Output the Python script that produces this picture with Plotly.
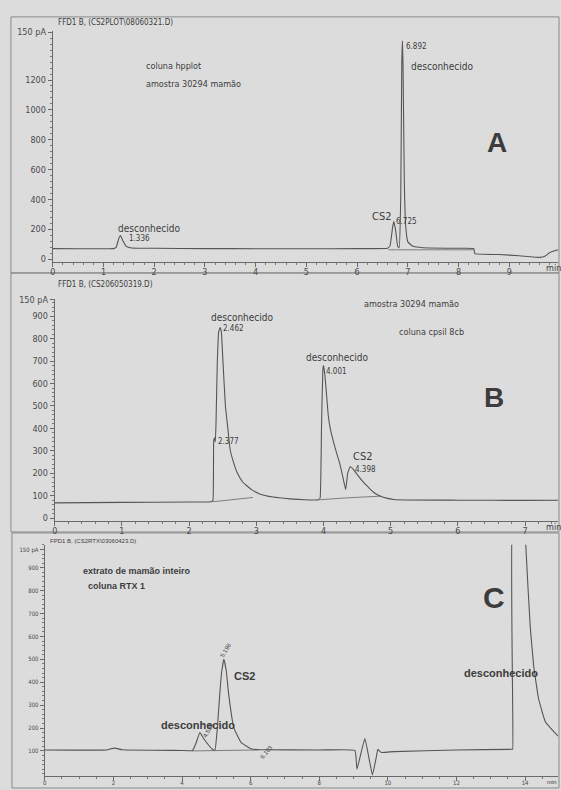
import plotly.graph_objects as go

W, H = 561, 790

# ---------------- Panel A : FFD1 B (CS2PLOT\08060321.D) ----------------
a_time = [0.00, 1.20, 1.25, 1.30, 1.336, 1.38, 1.45, 1.55, 2.0, 3.0, 4.0, 5.0, 6.0,
          6.60, 6.65, 6.70, 6.725, 6.76, 6.80, 6.83, 6.86, 6.88, 6.892, 6.905, 6.93,
          6.96, 7.00, 7.10, 7.30, 8.00, 8.30, 8.32, 8.80, 9.20, 9.60, 9.70, 9.80, 9.96]
a_signal = [70, 70, 78, 135, 157, 125, 85, 74, 72, 70, 69, 69, 70,
            72, 90, 215, 251, 190, 85, 75, 420, 1300, 1460, 1300, 520,
            210, 115, 85, 76, 72, 70, 36, 30, 22, 11, 18, 44, 62]
a_base_time = [6.62, 6.80, 8.30]
a_base_signal = [62, 62, 62]

# ---------------- Panel B : FFD1 B (CS206050319.D) ----------------
b_time = [0.0, 1.0, 2.0, 2.33, 2.355, 2.365, 2.377, 2.39, 2.40, 2.42, 2.44, 2.462,
          2.48, 2.50, 2.54, 2.58, 2.61, 2.66, 2.72, 2.80, 2.93, 3.05, 3.25, 3.50,
          3.72, 3.93, 3.95, 3.97, 3.99, 4.001, 4.02, 4.07, 4.10, 4.14, 4.19, 4.24,
          4.29, 4.33, 4.36, 4.398, 4.45, 4.52, 4.60, 4.68, 4.76, 4.85, 4.95, 5.07,
          6.0, 7.0, 7.49]
b_signal = [68, 70, 72, 73, 80, 340, 358, 340, 420, 700, 830, 850,
            830, 720, 500, 390, 306, 250, 200, 160, 127, 108, 94, 86,
            82, 82, 90, 400, 660, 680, 640, 460, 400, 350, 295, 246,
            180, 127, 200, 230, 215, 187, 158, 134, 112, 97, 88, 82,
            80, 79, 80]
b_base1_time = [2.35, 2.95]
b_base1_signal = [73, 92]
b_base2_time = [3.95, 4.33, 4.85]
b_base2_signal = [82, 90, 98]

# ---------------- Panel C : FPD1 B (CS2RTX\03060423.D) ----------------
c_time = [0.0, 1.80, 1.95, 2.05, 2.25, 4.00, 4.30, 4.40, 4.52, 4.65, 4.89, 4.96,
          5.03, 5.10, 5.16, 5.22, 5.29, 5.36, 5.51, 5.72, 6.03, 6.30, 8.00, 9.04,
          9.10, 9.33, 9.55, 9.66, 9.71, 9.81, 10.18, 12.0, 13.62, 13.64, 13.66,
          14.00, 14.02, 14.15, 14.25, 14.39, 14.59, 14.83, 14.96]
c_signal = [104, 104, 110, 112, 105, 102, 101, 130, 180, 150, 107, 103,
            200, 347, 450, 500, 450, 347, 202, 137, 108, 105, 104, 102,
            20, 154, -5, 71, 107, 93, 97, 104, 107, 107, 1200,
            1200, 1000, 643, 472, 330, 227, 185, 165]
c_base_time = [4.30, 6.20]
c_base_signal = [100, 104]

LINE = "#555555"
BG = "#dcdcdc"
NARROW = "Liberation Sans Narrow, DejaVu Sans Condensed, Arial Narrow, sans-serif"
ARIAL = "Liberation Sans, Arial, sans-serif"


def fx(px):
    return px / W


def fy(py):
    return 1 - py / H


fig = go.Figure()
for t, s, xa, ya, w in [
    (a_time, a_signal, "x", "y", 1.1), (a_base_time, a_base_signal, "x", "y", 0.7),
    (b_time, b_signal, "x2", "y2", 1.1), (b_base1_time, b_base1_signal, "x2", "y2", 0.7),
    (b_base2_time, b_base2_signal, "x2", "y2", 0.7),
    (c_time, c_signal, "x3", "y3", 1.1), (c_base_time, c_base_signal, "x3", "y3", 0.7),
]:
    fig.add_trace(go.Scatter(x=t, y=s, xaxis=xa, yaxis=ya, mode="lines",
                             line=dict(color=LINE, width=w, shape="spline", smoothing=0.3),
                             showlegend=False, hoverinfo="skip"))


def xax(dom, rng, dtick, minor, fsize):
    return dict(domain=[fx(dom[0]), fx(dom[1])], range=rng, dtick=dtick, tick0=0,
                showline=True, linecolor="#6a6a6a", linewidth=1, ticks="outside",
                ticklen=4, tickcolor="#6a6a6a", showgrid=False, zeroline=False,
                ticklabelstandoff=-3,
                tickfont=dict(family=NARROW, size=fsize, color="#4a4a4a"),
                minor=dict(dtick=minor, tick0=0, ticks="outside", ticklen=2,
                           tickcolor="#7a7a7a", showgrid=False),
                fixedrange=True)


def yax(dom, rng, vals, texts, minor, fsize, anchor):
    return dict(domain=[fy(dom[0]), fy(dom[1])], range=rng, tickmode="array",
                tickvals=vals, ticktext=texts, showline=True, linecolor="#6a6a6a",
                linewidth=1, ticks="outside", ticklen=4, tickcolor="#6a6a6a",
                showgrid=False, zeroline=False, anchor=anchor,
                tickfont=dict(family=NARROW, size=fsize, color="#4a4a4a"),
                minor=dict(dtick=minor, tick0=0, ticks="outside", ticklen=2,
                           tickcolor="#7a7a7a", showgrid=False),
                fixedrange=True)


a_yvals = [0, 200, 400, 600, 800, 1000, 1200, 1520]
a_ytext = ["0", "200", "400", "600", "800", "1000", "1200", "150 pA"]
b_yvals = [0, 100, 200, 300, 400, 500, 600, 700, 800, 900, 975]
b_ytext = ["0", "100", "200", "300", "400", "500", "600", "700", "800", "900", "150 pA"]
c_yvals = [100, 200, 300, 400, 500, 600, 700, 800, 900, 978]
c_ytext = ["100", "200", "300", "400", "500", "600", "700", "800", "900", "150 pA"]

fig.update_layout(
    width=W, height=H, margin=dict(l=0, r=0, t=0, b=0),
    paper_bgcolor=BG, plot_bgcolor=BG, showlegend=False,
    xaxis=xax((50, 558), [0, 9.96], 1, 0.2, 9) | dict(anchor="y"),
    yaxis=yax((260, 27), [-20, 1530], a_yvals, a_ytext, 40, 9, "x"),
    xaxis2=xax((52, 558), [0, 7.49], 1, 0.2, 9) | dict(anchor="y2"),
    yaxis2=yax((521, 297), [-13, 978], b_yvals, b_ytext, 20, 9, "x2"),
    xaxis3=xax((42, 558), [0, 14.96], 2, 0.5, 6) | dict(anchor="y3"),
    yaxis3=yax((778, 545), [-10, 1000], c_yvals, c_ytext, 20, 6, "x3"),
)

# panel frames
for x0, y0, x1, y1 in [(8, 13, 559, 271), (8, 271, 559, 532), (9, 533, 559, 790)]:
    fig.add_shape(type="rect", xref="paper", yref="paper", x0=fx(x0), x1=fx(x1),
                  y0=fy(y1), y1=fy(y0), line=dict(color="#8a8a8a", width=1),
                  fillcolor="rgba(0,0,0,0)", layer="below")

ann = [
    # panel A
    ("FFD1 B, (CS2PLOT\\08060321.D)", 53, 19, 8, NARROW, False, "left", 0),
    ("coluna hpplot", 142, 62, 9, NARROW, False, "left", 0),
    ("amostra 30294 mamão", 142, 81, 9, NARROW, False, "left", 0),
    ("6.892", 403, 43, 8, NARROW, False, "left", 0),
    ("desconhecido", 408, 63, 10, NARROW, False, "left", 0),
    ("A", 497, 140, 28, ARIAL, True, "center", 0),
    ("CS2", 393, 214, 11, NARROW, False, "right", 0),
    ("6.725", 393, 219, 8, NARROW, False, "left", 0),
    ("desconhecido", 114, 226, 10, NARROW, False, "left", 0),
    ("1.336", 125, 236, 8, NARROW, False, "left", 0),
    ("min", 553, 266, 9, NARROW, False, "center", 0),
    # panel B
    ("FFD1 B, (CS206050319.D)", 53, 283, 8, NARROW, False, "left", 0),
    ("amostra 30294 mamão", 361, 302, 9, NARROW, False, "left", 0),
    ("coluna cpsil 8cb", 396, 331, 9, NARROW, False, "left", 0),
    ("desconhecido", 207, 316, 10, NARROW, False, "left", 0),
    ("2.462", 219, 327, 8, NARROW, False, "left", 0),
    ("desconhecido", 303, 356, 10, NARROW, False, "left", 0),
    ("4.001", 323, 370, 8, NARROW, False, "left", 0),
    ("B", 494, 397, 28, ARIAL, True, "center", 0),
    ("2.377", 214, 441, 8, NARROW, False, "left", 0),
    ("CS2", 350, 456, 11, NARROW, False, "left", 0),
    ("4.398", 352, 469, 8, NARROW, False, "left", 0),
    ("min", 553, 527, 9, NARROW, False, "center", 0),
    # panel C
    ("FPD1 B, (CS2RTX\\03060423.D)", 45, 541, 6, ARIAL, False, "left", 0),
    ("extrato de mamão inteiro", 78, 571, 9, ARIAL, True, "left", 0),
    ("coluna RTX 1", 83, 586, 9, ARIAL, True, "left", 0),
    ("C", 494, 598, 30, ARIAL, True, "center", 0),
    ("CS2", 230, 677, 11, ARIAL, True, "left", 0),
    ("desconhecido", 157, 727, 11, ARIAL, True, "left", 0),
    ("desconhecido", 461, 674, 11, ARIAL, True, "left", 0),
    ("5.196", 224, 651, 6, ARIAL, False, "center", -60),
    ("4.526", 207, 732, 6, ARIAL, False, "center", -60),
    ("6.103", 265, 754, 6, ARIAL, False, "center", -50),
    ("min", 552, 784, 6, ARIAL, False, "center", 0),
]
for text, px, py, size, fam, bold, anchor, angle in ann:
    fig.add_annotation(text=f"<b>{text}</b>" if bold else text, xref="paper",
                       yref="paper", x=fx(px), y=fy(py), xanchor=anchor,
                       yanchor="middle", showarrow=False, textangle=angle,
                       font=dict(family=fam, size=size, color="#3c3c3c"))

fig.write_html("out.html", config={"displayModeBar": False, "staticPlot": True},
               post_script="document.body.style.margin='0';"
                           "document.body.style.overflow='hidden';")
